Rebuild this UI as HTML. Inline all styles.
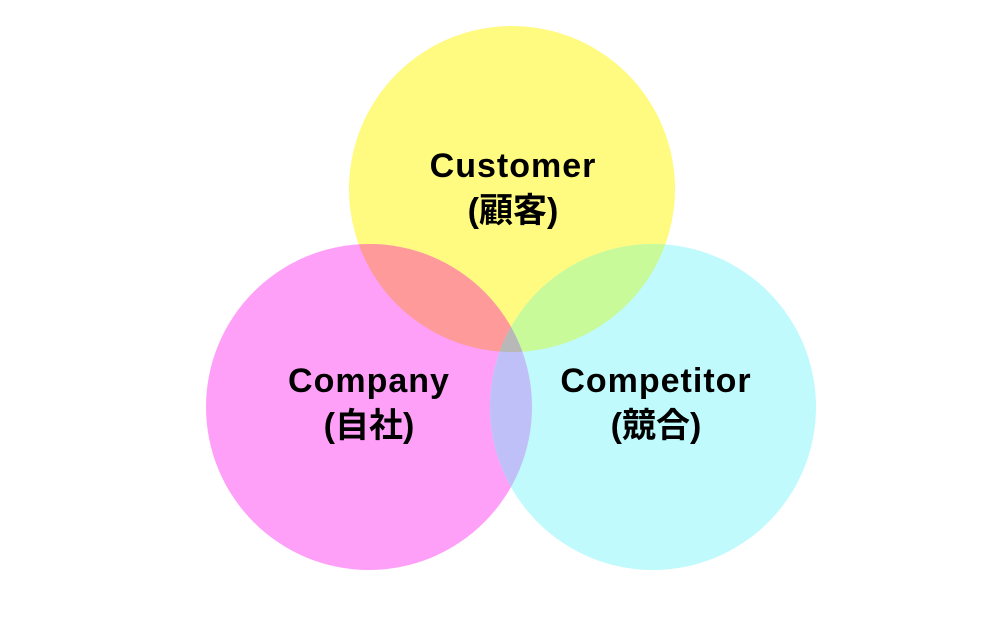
<!DOCTYPE html>
<html><head><meta charset="utf-8"><style>
html,body{margin:0;padding:0;background:#fff;width:1000px;height:626px;overflow:hidden}
text{font-family:"Liberation Sans","Noto Sans CJK JP",sans-serif;font-weight:bold;font-size:34px;fill:#000}
</style></head><body>
<svg width="1000" height="626" viewBox="0 0 1000 626">
<defs>
<clipPath id="cy"><circle cx="512" cy="189" r="163"/></clipPath>
<clipPath id="cp"><circle cx="369" cy="407" r="163"/></clipPath>
<clipPath id="cc"><circle cx="653" cy="407" r="163"/></clipPath>
</defs>
<circle cx="512" cy="189" r="163" fill="#fffa80"/>
<circle cx="369" cy="407" r="163" fill="#ffa0f8"/>
<circle cx="653" cy="407" r="163" fill="#c0fafc"/>
<g clip-path="url(#cy)"><circle cx="369" cy="407" r="163" fill="#ff9a9a"/><circle cx="653" cy="407" r="163" fill="#c8fa9a"/></g>
<g clip-path="url(#cp)"><circle cx="653" cy="407" r="163" fill="#c0c0f8"/></g>
<g clip-path="url(#cy)"><g clip-path="url(#cp)"><circle cx="653" cy="407" r="163" fill="#b8b8b8"/></g></g>
<text x="513" y="177" text-anchor="middle" letter-spacing="1">Customer</text>
<text x="513" y="222" text-anchor="middle">(顧客)</text>
<text x="369" y="392" text-anchor="middle" letter-spacing="1">Company</text>
<text x="369" y="437" text-anchor="middle">(自社)</text>
<text x="656" y="392" text-anchor="middle" letter-spacing="1">Competitor</text>
<text x="656" y="437" text-anchor="middle">(競合)</text>
</svg>
</body></html>
